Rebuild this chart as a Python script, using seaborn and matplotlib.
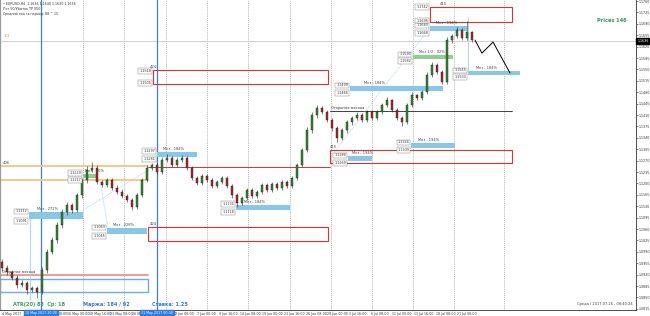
import numpy as np
import pandas as pd
import matplotlib
matplotlib.use("Agg")
import matplotlib.pyplot as plt
import matplotlib.transforms as mtransforms
from matplotlib.patches import Rectangle
import seaborn as sns

# ---------------- data ----------------
opens = [1.0958, 1.0940, 1.0928, 1.0910, 1.0888, 1.0894, 1.0873, 1.0879, 1.0867, 1.0934,
         1.0990, 1.1026, 1.1072, 1.1112, 1.1134, 1.1118, 1.1164, 1.1210, 1.1241, 1.1247,
         1.1204, 1.1195, 1.1210, 1.1186, 1.1174, 1.1161, 1.1149, 1.1128, 1.1164, 1.1210,
         1.1247, 1.1256, 1.1235, 1.1272, 1.1278, 1.1256, 1.1272, 1.1278, 1.1247, 1.1217,
         1.1201, 1.1223, 1.1210, 1.1192, 1.1204, 1.1217, 1.1192, 1.1164, 1.1140, 1.1155,
         1.1180, 1.1161, 1.1174, 1.1195, 1.1180, 1.1198, 1.1186, 1.1204, 1.1192, 1.1217,
         1.1256, 1.1303, 1.1364, 1.1410, 1.1431, 1.1419, 1.1395, 1.1370, 1.1339, 1.1364,
         1.1388, 1.1401, 1.1410, 1.1395, 1.1419, 1.1401, 1.1419, 1.1441, 1.1456, 1.1425,
         1.1401, 1.1388, 1.1441, 1.1471, 1.1462, 1.1481, 1.1533, 1.1563, 1.1542, 1.1511,
         1.1640, 1.1652, 1.1671, 1.1646, 1.1665]
highs = [1.0968, 1.0950, 1.0935, 1.0918, 1.0902, 1.0900, 1.0886, 1.0886, 1.0942, 1.0998,
         1.1034, 1.1080, 1.1120, 1.1144, 1.1140, 1.1172, 1.1218, 1.1252, 1.1265, 1.1255,
         1.1212, 1.1218, 1.1216, 1.1194, 1.1182, 1.1168, 1.1156, 1.1172, 1.1218, 1.1255,
         1.1264, 1.1262, 1.1280, 1.1290, 1.1285, 1.1280, 1.1286, 1.1284, 1.1252, 1.1224,
         1.1230, 1.1228, 1.1216, 1.1210, 1.1224, 1.1222, 1.1198, 1.1170, 1.1160, 1.1186,
         1.1186, 1.1180, 1.1202, 1.1200, 1.1204, 1.1204, 1.1210, 1.1210, 1.1224, 1.1264,
         1.1310, 1.1372, 1.1420, 1.1440, 1.1438, 1.1424, 1.1400, 1.1375, 1.1370, 1.1394,
         1.1408, 1.1418, 1.1416, 1.1426, 1.1424, 1.1426, 1.1448, 1.1466, 1.1460, 1.1430,
         1.1406, 1.1448, 1.1480, 1.1476, 1.1488, 1.1542, 1.1572, 1.1570, 1.1548, 1.1648,
         1.1660, 1.1680, 1.1676, 1.1698, 1.1668]
lows = [1.0932, 1.0920, 1.0902, 1.0880, 1.0882, 1.0862, 1.0866, 1.0848, 1.0860, 1.0926,
        1.0982, 1.1018, 1.1064, 1.1104, 1.1110, 1.1112, 1.1156, 1.1202, 1.1234, 1.1198,
        1.1188, 1.1188, 1.1180, 1.1168, 1.1155, 1.1142, 1.1118, 1.1120, 1.1158, 1.1204,
        1.1240, 1.1228, 1.1228, 1.1266, 1.1250, 1.1250, 1.1266, 1.1240, 1.1210, 1.1194,
        1.1196, 1.1204, 1.1186, 1.1186, 1.1198, 1.1186, 1.1156, 1.1128, 1.1134, 1.1150,
        1.1154, 1.1156, 1.1168, 1.1174, 1.1175, 1.1180, 1.1180, 1.1186, 1.1186, 1.1210,
        1.1250, 1.1296, 1.1356, 1.1402, 1.1412, 1.1388, 1.1362, 1.1326, 1.1332, 1.1356,
        1.1380, 1.1394, 1.1388, 1.1388, 1.1395, 1.1394, 1.1412, 1.1435, 1.1418, 1.1394,
        1.1376, 1.1382, 1.1434, 1.1455, 1.1455, 1.1474, 1.1526, 1.1536, 1.1504, 1.1505,
        1.1632, 1.1646, 1.1640, 1.1640, 1.1634]
closes = [1.0940, 1.0928, 1.0910, 1.0888, 1.0894, 1.0873, 1.0879, 1.0867, 1.0934, 1.0990,
          1.1026, 1.1072, 1.1112, 1.1134, 1.1118, 1.1164, 1.1210, 1.1241, 1.1247, 1.1204,
          1.1195, 1.1210, 1.1186, 1.1174, 1.1161, 1.1149, 1.1128, 1.1164, 1.1210, 1.1247,
          1.1256, 1.1235, 1.1272, 1.1278, 1.1256, 1.1272, 1.1278, 1.1247, 1.1217, 1.1201,
          1.1223, 1.1210, 1.1192, 1.1204, 1.1217, 1.1192, 1.1164, 1.1140, 1.1155, 1.1180,
          1.1161, 1.1174, 1.1195, 1.1180, 1.1198, 1.1186, 1.1204, 1.1192, 1.1217, 1.1256,
          1.1303, 1.1364, 1.1410, 1.1431, 1.1419, 1.1395, 1.1370, 1.1339, 1.1364, 1.1388,
          1.1401, 1.1410, 1.1395, 1.1419, 1.1401, 1.1419, 1.1441, 1.1456, 1.1425, 1.1401,
          1.1388, 1.1441, 1.1471, 1.1462, 1.1481, 1.1533, 1.1563, 1.1542, 1.1511, 1.1640,
          1.1652, 1.1671, 1.1646, 1.1665, 1.1640]

# time axis (H4 bar numbers)
tick_bars = [0, 16, 32, 48, 64, 80, 96, 112, 128, 144, 160, 176, 192, 208, 224, 240,
             256, 272, 288, 304, 320, 336]
tick_labels = ["4 May 2017", "8 May 16:00", "11 May 08:00", "16 May 00:00", "18 May 16:00",
               "23 May 08:00", "26 May 00:00", "30 May 16:00", "2 Jun 08:00", "7 Jun 00:00",
               "9 Jun 16:00", "14 Jun 08:00", "19 Jun 00:00", "21 Jun 16:00", "26 Jun 08:00",
               "29 Jun 00:00", "3 Jul 16:00", "6 Jul 08:00", "11 Jul 00:00", "13 Jul 16:00",
               "18 Jul 08:00", "21 Jul 00:00"]
price_ticks = [1.0815, 1.0850, 1.0885, 1.0920, 1.0955, 1.0990, 1.1025, 1.1060, 1.1095,
               1.1130, 1.1165, 1.1200, 1.1235, 1.1270, 1.1305, 1.1340, 1.1375, 1.1410,
               1.1445, 1.1480, 1.1515, 1.1550, 1.1585, 1.1620, 1.1655, 1.1690, 1.1725,
               1.1760]
current_price = 1.1636

week_lines = [59.8, 90.0, 121.0, 151.3, 181.5, 212.5, 242.8, 273.1, 303.3, 333.6, 370.5]
cursor_lines = [28.8, 114.4]
cursor_labels = ["10 May 2017 20:00", "31 May 2017 00:00"]

# red zones: start, end, low, high, label, label bar
red_start = [315.9, 111.4, 107.7, 242.1]
red_end = [376.4, 240.6, 240.6, 376.4]
red_lo = [1.1696, 1.1505, 1.1023, 1.1263]
red_hi = [1.1742, 1.1548, 1.1066, 1.1303]
red_text = ["415", "424", "424", "415"]
red_label_bar = [323.0, 109.2, 109.2, 242.1]

# levels (blue / green bands)
lvl_start = [19.9, 77.5, 114.4, 172.7, 255.4, 256.8, 302.0, 303.3, 315.9, 343.9, 59.8]
lvl_end = [59.8, 107.0, 143.9, 212.5, 273.1, 325.5, 334.3, 332.8, 343.2, 382.3, 70.1]
lvl_lo = [1.1091, 1.1045, 1.1281, 1.1118, 1.1269, 1.1484, 1.1309, 1.1582, 1.1668, 1.1533, 1.1217]
lvl_hi = [1.1112, 1.1063, 1.1297, 1.1134, 1.1284, 1.1499, 1.1324, 1.1594, 1.1683, 1.1545, 1.1229]
lvl_text = ["Мкз - 272%", "Мкз - 228%", "Мкз - 184%", "Мкз - 184%", "Мкз - 194%",
            "Мкз - 184%", "Мкз - 194%", "Мкз 1/2 - 92%", "Мкз - 194%", "Мкз - 184%", "Мкз - 50%"]
lvl_kind = ["b", "b", "b", "b", "b", "b", "b", "g", "b", "b", "g"]

# orange band, other lines
orange_levels = [1.1253, 1.1210]
orange_span = [-1.5, 107.7]
red_line_level = 1.1250
red_line_span = [107.7, 242.0]
low_red_level = 1.0919
low_box = [-1.5, 107.7, 1.0867, 1.0907]
month_open_level = 1.1422
month_open_span = [242.0, 376.4]

# helper dotted lines (bar, price pairs)
diag_t = [[59.8, 111.4], [72.3, 78.2], [242.1, 281.2], [281.2, 315.9]]
diag_p = [[1.1118, 1.1250], [1.1210, 1.1063], [1.1278, 1.1493], [1.1493, 1.1677]]
vert_t = [20.7, 343.9]
vert_p = [[1.0842, 1.1091], [1.1542, 1.1711]]

# forecast path
forecast_t = [349.1, 354.2, 362.4, 374.9]
forecast_p = [1.1640, 1.1600, 1.1634, 1.1539]

# ---------------- figure ----------------
sns.set_style("white")
plt.rcParams['font.family'] = ['DejaVu Sans']

fig = plt.figure(figsize=(6.5, 3.16), dpi=100)
ax = fig.add_axes([0.0, 1 - 309.5 / 316, 636 / 650, 309.5 / 316])
ax.set_facecolor("white")

n = len(closes)
cx = np.arange(n) * 3.69
o = np.array(opens); c = np.array(closes); h = np.array(highs); l = np.array(lows)

# grid-like separators
for b in week_lines:
    ax.axvline(b, color="#9a9a9a", lw=0.5, ls=(0, (1.5, 1.5)), zorder=1)
for b in cursor_lines:
    ax.axvline(b, color="#3a7fd5", lw=0.9, zorder=2)
ax.axhline(current_price, color="#c8c8c8", lw=0.6, zorder=1)

# orange band
for lv in orange_levels:
    ax.plot(orange_span, [lv, lv], color="#f7c47e", lw=1.3, zorder=2)
ax.text(0.5, orange_levels[0] + 0.0003, "406", fontsize=2.7, color="#444", va="bottom", zorder=6)
ax.plot(red_line_span, [red_line_level, red_line_level], color="#e03030", lw=0.7, zorder=2)
ax.plot(orange_span, [low_red_level, low_red_level], color="#f29090", lw=1.3, zorder=2)
ax.add_patch(Rectangle((low_box[0], low_box[2]), low_box[1] - low_box[0], low_box[3] - low_box[2],
                       fill=False, edgecolor="#6aaee8", lw=1.0, zorder=2))
ax.text(0.3, low_red_level + 0.0003, "Открытие месяца", fontsize=2.5, color="#333", va="bottom", zorder=6)
ax.plot(month_open_span, [month_open_level, month_open_level], color="#222", lw=0.6, zorder=2)
ax.text(month_open_span[0] + 1, month_open_level + 0.0003, "Открытие месяца", fontsize=2.5,
        color="#333", va="bottom", zorder=6)

# red zones
for s, e, lo, hi, t, lb in zip(red_start, red_end, red_lo, red_hi, red_text, red_label_bar):
    ax.add_patch(Rectangle((s, lo), e - s, hi - lo, fill=False, edgecolor="#e03030", lw=0.8, zorder=3))
    ax.text(lb, hi + 0.0003, t, fontsize=2.7, color="#444", va="bottom", zorder=6)

box_kw = dict(boxstyle="square,pad=0.25", fc="white", ec="#888", lw=0.35)

# levels
for s, e, lo, hi, t, k in zip(lvl_start, lvl_end, lvl_lo, lvl_hi, lvl_text, lvl_kind):
    col = "#87c8ea" if k == "b" else "#8fd08f"
    ax.add_patch(Rectangle((s, lo), e - s, hi - lo, facecolor=col, edgecolor="none", zorder=3))
    ax.text(s + 0.15 * (e - s), hi + 0.0003, t, fontsize=2.6, color="#444", va="bottom", zorder=6)
    ax.text(s - 1.5, hi + 0.0002, f"{hi:.4f}", fontsize=2.4, color="#333", ha="right",
            va="center", bbox=box_kw, zorder=6)
    ax.text(s - 1.5, lo - 0.0006, f"{lo:.4f}", fontsize=2.4, color="#333", ha="right",
            va="center", bbox=box_kw, zorder=6)

# red box price tags
ax.text(red_start[0] - 1.5, red_hi[0], f"{red_hi[0]:.4f}", fontsize=2.4, color="#333",
        ha="right", va="center", bbox=box_kw, zorder=6)
ax.text(red_start[0] - 1.5, red_lo[0] + 0.0004, f"{red_lo[0]:.4f}", fontsize=2.4, color="#333",
        ha="right", va="center", bbox=box_kw, zorder=6)
ax.text(red_start[1] - 1.5, red_hi[1] - 0.0003, f"{red_hi[1]:.4f}", fontsize=2.4, color="#333",
        ha="right", va="center", bbox=box_kw, zorder=6)
ax.text(red_start[1] - 1.5, red_lo[1] + 0.0003, f"{red_lo[1]:.4f}", fontsize=2.4, color="#333",
        ha="right", va="center", bbox=box_kw, zorder=6)

# helper lines
for tt, pp in zip(diag_t, diag_p):
    ax.plot(tt, pp, color="#9fd3ef", lw=0.5, ls=(0, (1.5, 1.0)), zorder=2)
for tt, pp in zip(vert_t, vert_p):
    ax.plot([tt, tt], pp, color="#9fd3ef", lw=0.6, zorder=2)

# candles
bull = c >= o
colors = np.where(bull, "#2e8b2e", "#b22222")
ax.vlines(cx, l, h, color="#222222", lw=0.4, zorder=4)
ax.bar(cx, np.maximum(np.abs(c - o), 0.00015), bottom=np.minimum(o, c), width=2.1,
       color=colors, edgecolor="#222222", linewidth=0.3, zorder=5)

# forecast
sns.lineplot(x=forecast_t, y=forecast_p, color="black", lw=0.7, ax=ax, sort=False, zorder=5)

# axes limits & ticks
ax.set_xlim(-1.476, 467.9)
ax.set_ylim(1.08129, 1.17631)
ax.yaxis.tick_right()
ax.set_yticks(price_ticks)
ax.set_yticklabels([f"{p:.4f}" for p in price_ticks])
ax.set_xticks(tick_bars)
ax.set_xticklabels(tick_labels, ha="left")
ax.tick_params(axis="y", labelsize=2.3, length=1.2, width=0.4, pad=0.6, colors="#333")
ax.tick_params(axis="x", labelsize=2.3, length=1.2, width=0.4, pad=0.8, colors="#333")
ax.set_xlabel(""); ax.set_ylabel("")
ax.spines["top"].set_visible(False)
ax.spines["left"].set_color("#9a9a9a"); ax.spines["left"].set_linewidth(1.6)
ax.spines["right"].set_color("#333"); ax.spines["right"].set_linewidth(0.6)
ax.spines["bottom"].set_color("#333"); ax.spines["bottom"].set_linewidth(0.6)

# current price tag on axis
trans_y = mtransforms.blended_transform_factory(ax.transAxes, ax.transData)
ax.text(1.002, current_price, f"{current_price:.4f}", transform=trans_y, fontsize=2.3,
        color="white", va="center", ha="left",
        bbox=dict(boxstyle="square,pad=0.3", fc="black", ec="black"), zorder=7, clip_on=False)

# cursor date tags
trans_x = mtransforms.blended_transform_factory(ax.transData, ax.transAxes)
for b, t in zip(cursor_lines, cursor_labels):
    ax.text(b, -0.006, t, transform=trans_x, fontsize=2.3, color="white", ha="center", va="top",
            bbox=dict(boxstyle="square,pad=0.3", fc="#2f7ae0", ec="#2f7ae0"), zorder=7, clip_on=False)

# overlay texts
ax.text(0.004, 0.992, "• EURUSD,H4  1.1636 1.1640 1.1630 1.1636", transform=ax.transAxes,
        fontsize=2.3, color="#333", va="top")
ax.text(0.004, 0.976, "Лот 50/Убыток ТР 050", transform=ax.transAxes, fontsize=2.3,
        color="#333", va="top")
ax.text(0.004, 0.962, "Средний ход за период: 88 ^ 15", transform=ax.transAxes, fontsize=2.3,
        color="#333", va="top")
ax.text(0.005, 0.885, "1/3", transform=ax.transAxes, fontsize=3.0, color="#f08a60", va="center")
ax.text(0.985, 0.935, "Prices 146", transform=ax.transAxes, fontsize=3.6, color="#2e9a5a",
        fontweight="bold", ha="right", va="center")
ax.text(0.995, 0.018, "Среда / 2017.07.26 - 08:40:24", transform=ax.transAxes, fontsize=2.6,
        color="#444", ha="right", va="center")
ax.text(0.021, 0.017, "ATR(20) 88  Ср: 18", transform=ax.transAxes, fontsize=3.6, color="#3aa050",
        fontweight="bold", va="center")
ax.text(0.130, 0.017, "Маржа: 184 / 92", transform=ax.transAxes, fontsize=3.6, color="#2f7ae0",
        fontweight="bold", va="center")
ax.text(0.239, 0.017, "Ставка: 1.25", transform=ax.transAxes, fontsize=3.6, color="#2f7ae0",
        fontweight="bold", va="center")

fig.savefig("out.png", dpi=100)
